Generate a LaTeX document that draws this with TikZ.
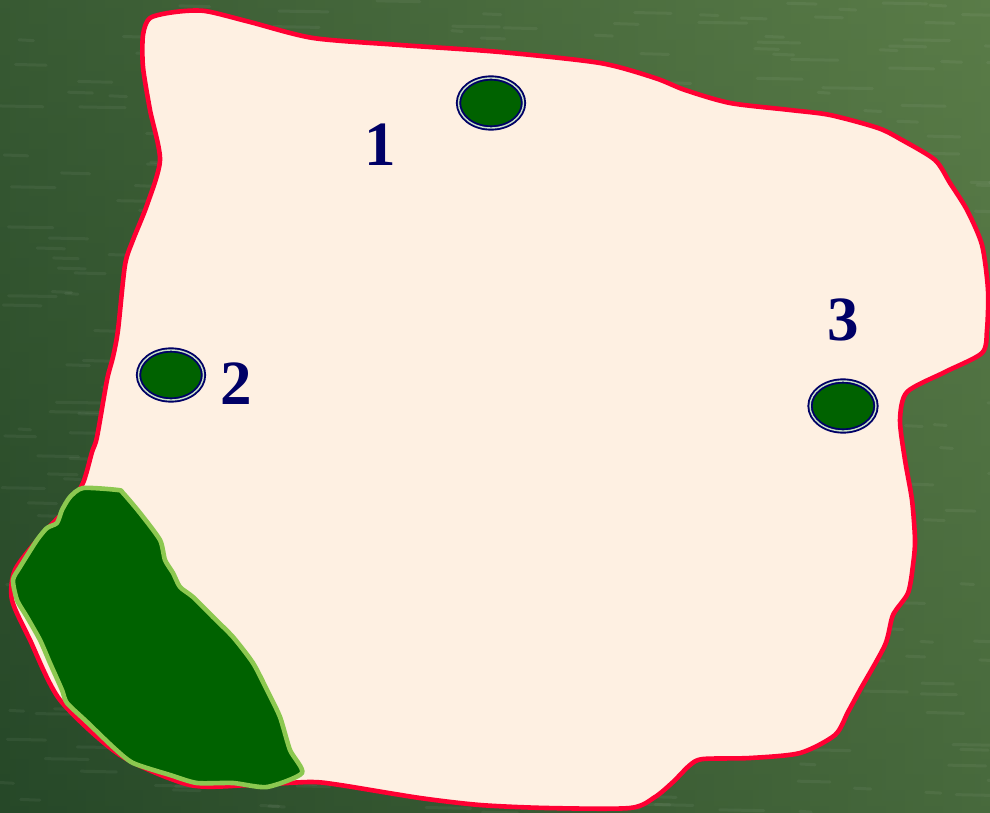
\documentclass[tikz,border=0pt]{standalone}
\usepackage{fontspec}
\setmainfont{Liberation Serif}
\definecolor{bgdark}{RGB}{38,72,40}
\definecolor{bglight}{RGB}{90,124,72}
\definecolor{landfill}{RGB}{254,240,226}
\definecolor{landedge}{RGB}{255,0,51}
\definecolor{forest}{RGB}{0,98,0}
\definecolor{forestedge}{RGB}{140,200,80}
\definecolor{navy}{RGB}{0,0,102}
\definecolor{ringlight}{RGB}{200,225,200}
\tikzset{
  land/.style={fill=landfill, draw=landedge, line width=4.6pt, line join=round},
  wood/.style={fill=forest, draw=forestedge, line width=4.6pt, line join=round},
  pond/.style={ellipse, fill=forest, draw=navy, double=ringlight, double distance=1.4pt, line width=1.9pt, inner sep=0pt},
  numlabel/.style={text=navy, font=\fontsize{63}{63}\selectfont\bfseries, inner sep=0pt}
}
\usetikzlibrary{shapes.geometric}
\begin{document}
\begin{tikzpicture}[x=1pt,y=-1pt]
\useasboundingbox (0,0) rectangle (990,813);
% background
\shade[left color=bgdark, right color=bglight] (0,0) rectangle (990,813);
\shade[top color=bglight, bottom color=bgdark, opacity=0.35] (0,0) rectangle (990,813);
\pgfmathsetseed{7}
\foreach \i in {1,...,600}{
  \pgfmathsetmacro{\xx}{rnd*990}
  \pgfmathsetmacro{\yy}{rnd*813}
  \pgfmathsetmacro{\ll}{10+rnd*40}
  \draw[white, opacity=0.05, line width=3pt, line cap=round] (\xx,\yy) -- ++(\ll,0.8);
}
% land parcel
\draw[land] plot[smooth cycle, tension=0.45] coordinates {
 (150,18) (175,12) (205,11) (250,22) (313,38) (400,45) (500,52) (600,63)
 (655,78) (685,90) (730,103) (790,110) (830,115) (878,128) (902,140) (935,160)
 (950,183) (967,210) (982,245) (988,290) (987,330) (982,353) (945,372) (907,392)
 (900,420) (905,460) (912,500) (915,540) (913,565) (908,593) (893,615) (885,645)
 (860,690) (848,712) (835,735) (800,753) (750,758) (703,759) (690,765) (673,782)
 (655,797) (630,808) (547,808) (480,805) (420,798) (340,785) (310,782) (250,785) (190,785)
 (120,755) (60,700) (30,640) (12,600) (15,570) (40,537) (67,508) (83,483) (92,452)
 (97,437) (107,380) (113,357) (118,330) (125,265) (133,240) (147,205) (160,160)
 (150,110) (143,67) (143,35)};
% forest
\draw[wood] plot[smooth cycle, tension=0.4] coordinates {
 (83,488) (118,490) (123,493) (140,513) (160,540) (165,560) (173,573) (180,587)
 (193,597) (213,617) (233,637) (253,663) (267,690) (280,717) (290,750) (302,773)
 (267,787) (233,783) (197,783) (170,775) (133,763) (113,747) (87,722) (67,703)
 (62,690) (50,663) (40,640) (27,617) (17,600) (13,580) (20,567) (37,540)
 (47,528) (57,523) (62,510) (70,497)};
% ponds
\node[pond, minimum width=65pt, minimum height=50pt] (p1) at (491,103) {};
\node[pond, minimum width=65pt, minimum height=50pt] (p2) at (171,375) {};
\node[pond, minimum width=66pt, minimum height=50pt] (p3) at (843,406) {};
% labels
\node[numlabel] (n1) at (380,145) {1};
\node[numlabel] (n2) at (236,384) {2};
\node[numlabel] (n3) at (843,320) {3};
\end{tikzpicture}
\end{document}
